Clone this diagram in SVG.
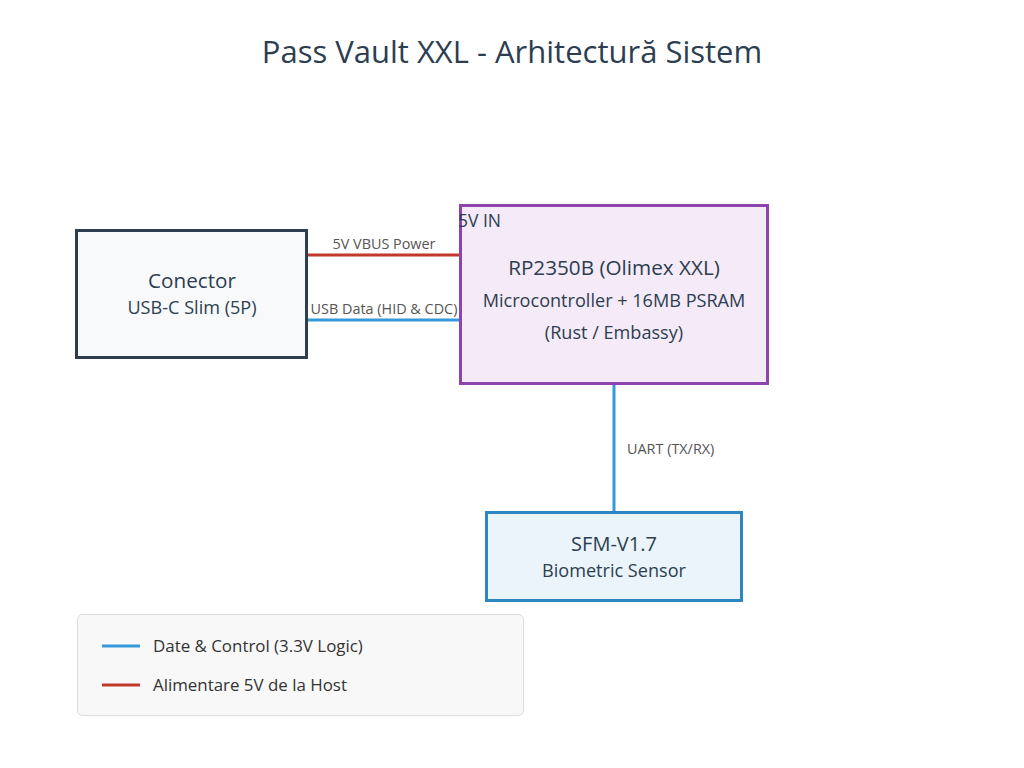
<svg xmlns="http://www.w3.org/2000/svg" width="1024" height="768" viewBox="0 0 1024 768">
<style>
text{font-family:"Open Sans","Noto Sans","DejaVu Sans",sans-serif;fill:#2c3e50}
.t1{font-size:20.7px;text-anchor:middle}
.t2{font-size:18.1px;text-anchor:middle}
.lbl{font-size:14.4px;fill:#555}
.leg{font-size:16.9px;fill:#333}
.blue{stroke:#3498db;stroke-width:3;fill:none}
.red{stroke:#c0392b;stroke-width:3;fill:none}
</style>
<rect width="1024" height="768" fill="#ffffff"/>
<text x="512" y="63" style="font-size:31px;text-anchor:middle;fill:#2c3e50">Pass Vault XXL - Arhitectură Sistem</text>
<g id="connectors">
<line class="red" x1="307" y1="255" x2="460" y2="255"/>
<text class="lbl" x="384" y="249" text-anchor="middle">5V VBUS Power</text>
<line class="blue" x1="307" y1="320" x2="460" y2="320"/>
<text class="lbl" x="384" y="314" text-anchor="middle">USB Data (HID &amp; CDC)</text>
<line class="blue" x1="614" y1="384" x2="614" y2="512"/>
<text class="lbl" x="627" y="454">UART (TX/RX)</text>
</g>
<g id="usb">
<rect x="76.5" y="230.5" width="230" height="127" fill="#f8f9fb" stroke="#2c3e50" stroke-width="3"/>
<text class="t1" x="192" y="288">Conector</text>
<text class="t2" x="192" y="314">USB-C Slim (5P)</text>
</g>
<g id="mcu">
<rect x="460.5" y="205.5" width="307" height="178" fill="#f5eaf7" stroke="#8e44ad" stroke-width="3"/>
<text x="458" y="227" style="font-size:17.5px">5V IN</text>
<text class="t1" x="614" y="275">RP2350B (Olimex XXL)</text>
<text class="t2" x="614" y="307">Microcontroller + 16MB PSRAM</text>
<text class="t2" x="614" y="339">(Rust / Embassy)</text>
</g>
<g id="sensor">
<rect x="486.5" y="512.5" width="255" height="88" fill="#eaf4fa" stroke="#2e86c1" stroke-width="3"/>
<text class="t1" x="614" y="551" style="font-size:20px">SFM-V1.7</text>
<text class="t2" x="614" y="577">Biometric Sensor</text>
</g>
<g id="legend">
<rect x="77.5" y="614.5" width="446" height="101" rx="5" fill="#f8f8f8" stroke="#dddddd" stroke-width="1"/>
<line class="blue" x1="102" y1="646" x2="140" y2="646"/>
<text class="leg" x="153" y="652">Date &amp; Control (3.3V Logic)</text>
<line class="red" x1="102" y1="685" x2="140" y2="685"/>
<text class="leg" x="153" y="691">Alimentare 5V de la Host</text>
</g>
</svg>
